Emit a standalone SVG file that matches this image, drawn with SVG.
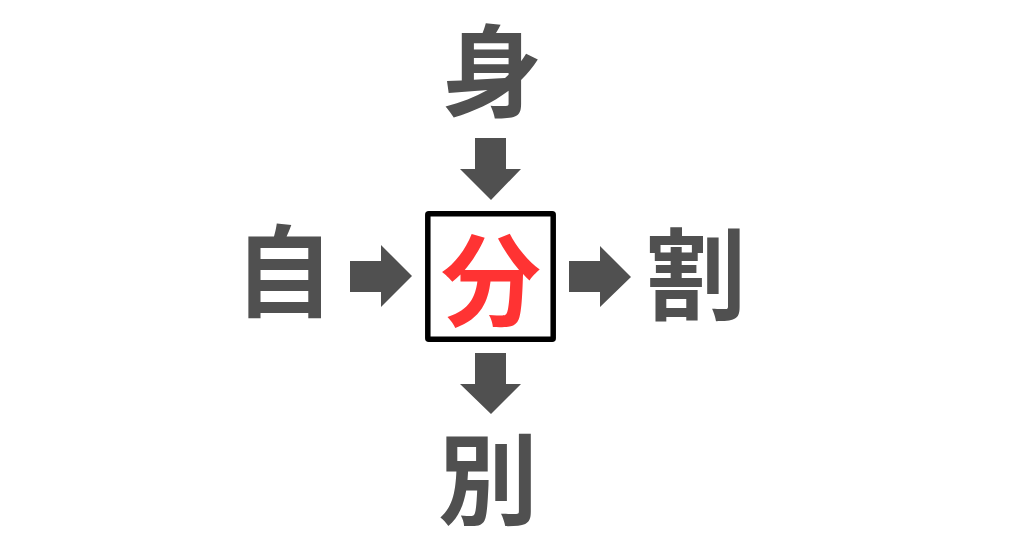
<svg xmlns="http://www.w3.org/2000/svg" width="1024" height="538" viewBox="0 0 1024 538">
<style>
.ch{font-family:"Noto Sans CJK JP","Noto Sans CJK SC",sans-serif;font-weight:bold;font-size:100px;text-anchor:middle;fill:#505050}
.red{fill:#FF3333}
.arr{fill:#505050}
</style>
<rect width="1024" height="538" fill="#ffffff"/>
<g id="node-top"><text class="ch" x="492" y="109" font-size="104">身</text></g>
<g id="node-left"><text class="ch" x="284" y="309" font-size="94">自</text></g>
<g id="node-right"><text class="ch" x="696" y="312" font-size="98">割</text></g>
<g id="node-bottom"><text class="ch" x="488" y="517">別</text></g>
<g id="node-center">
<rect x="427.8" y="213.8" width="125.4" height="125.4" fill="#ffffff" stroke="#000000" stroke-width="5.5" rx="1"/>
<text class="ch red" x="491" y="318" font-size="102">分</text>
</g>
<g id="connectors">
<polygon class="arr" points="475,138 506,138 506,169 521,169 491,200 460,169 475,169"/>
<polygon class="arr" points="350,261 381,261 381,245 412,276 381,307 381,292 350,292"/>
<polygon class="arr" points="569,261 600,261 600,246 631,277 600,307 600,292 569,292"/>
<polygon class="arr" points="475,353 506,353 506,384 521,384 491,414 460,384 475,384"/>
</g>
</svg>
